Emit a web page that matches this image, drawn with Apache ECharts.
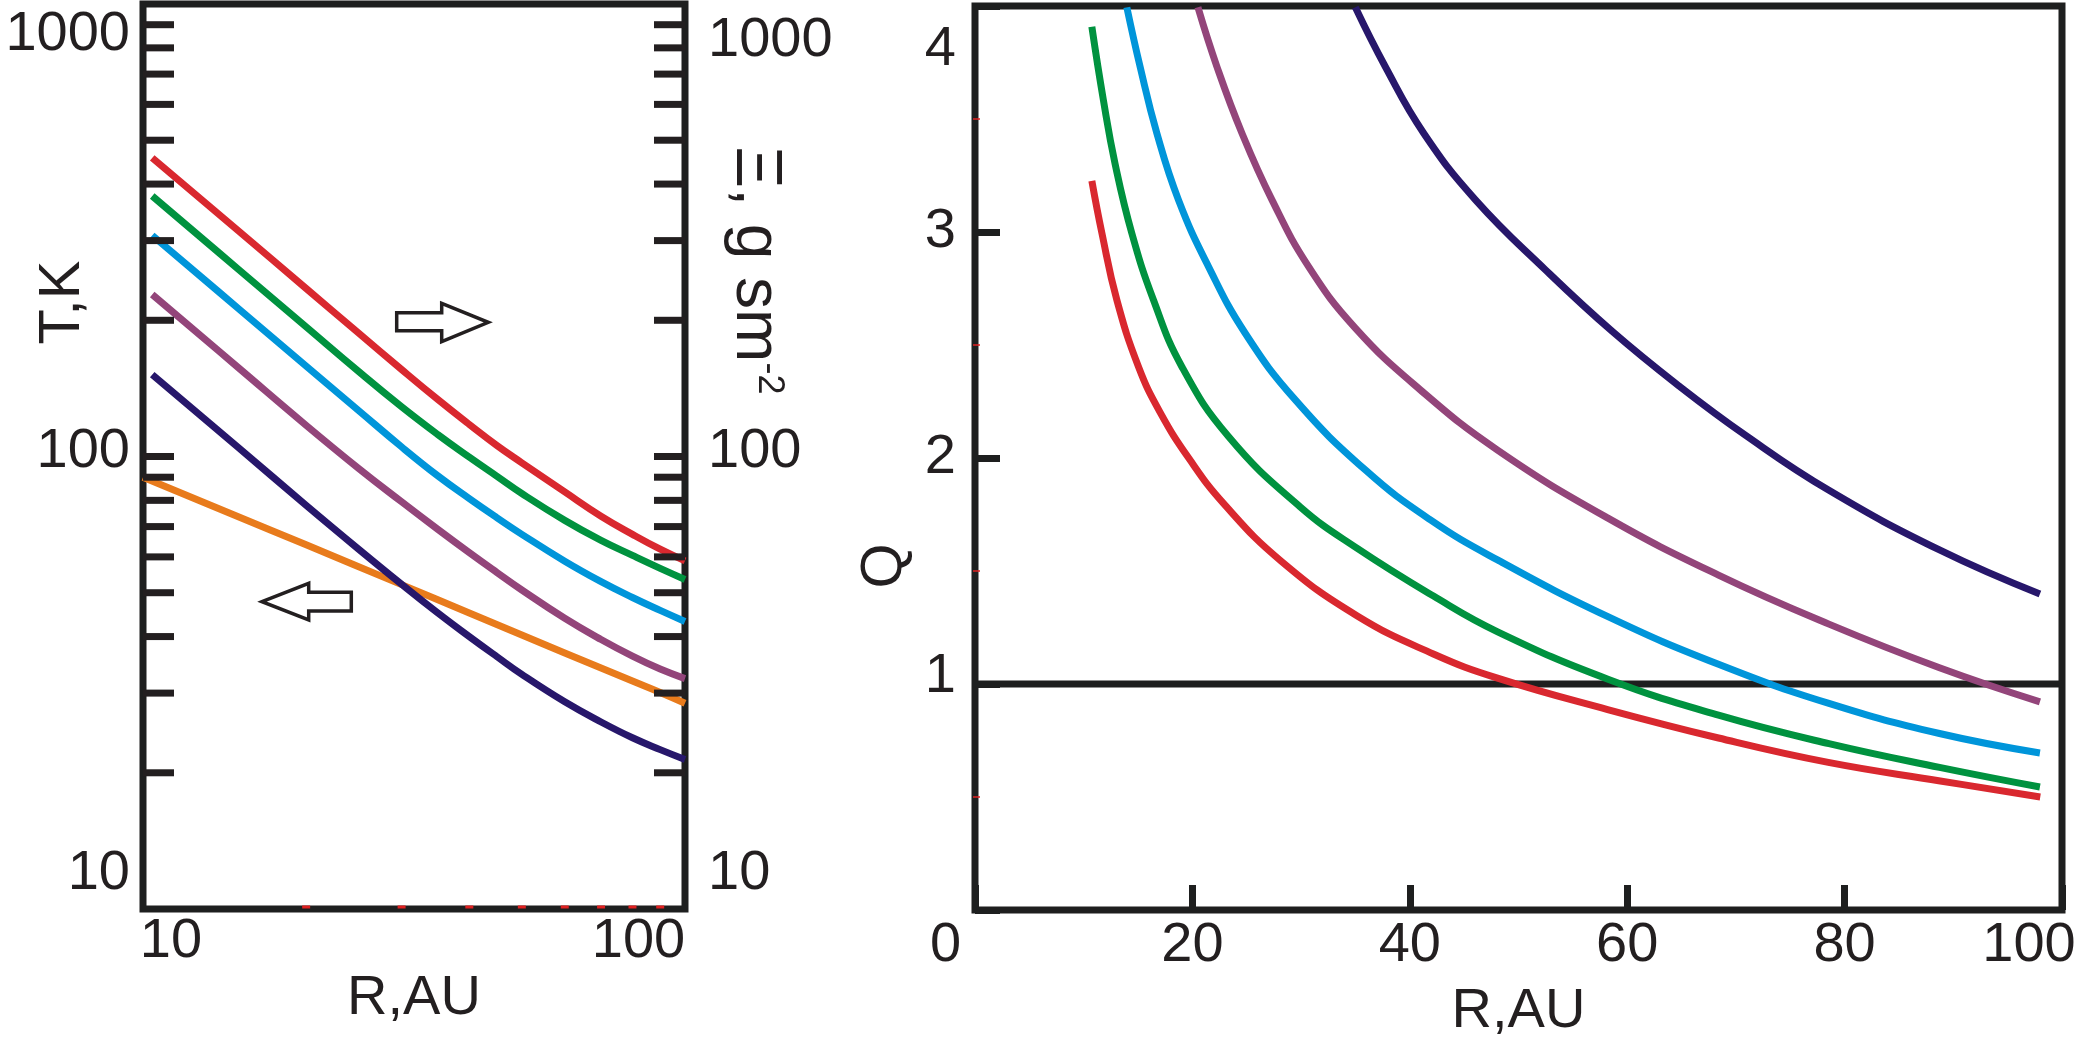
<!DOCTYPE html>
<html>
<head>
<meta charset="utf-8">
<script src="https://cdn.jsdelivr.net/npm/echarts@6/dist/echarts.min.js"></script>
<style>
html,body{margin:0;padding:0;background:#ffffff;}
#chart{width:2074px;height:1044px;}
</style>
</head>
<body>
<div id="chart"></div>
<script>
// ================= DATA =================
// Left panel: surface density Sigma (right log axis) and temperature T (left log axis) vs R (log)
const sigmaRadius = [10.4, 15, 20, 25, 30, 35, 40, 45, 50, 60, 70, 80, 90, 100];
const sigmaRed    = [457, 315.2, 235.1, 187.4, 155.7, 133.6, 117.7, 105.7, 96.85, 83.5, 73.8, 67.3, 62.4, 58.8];
const sigmaGreen  = [376.5, 259.2, 193.4, 154.1, 128.8, 111.8, 99.66, 90.4, 82.85, 72.25, 65.25, 60.45, 56.6, 53.5];
const sigmaBlue   = [308.1, 212.3, 158.4, 126.3, 105.0, 90.6, 80.7, 73.2, 67.3, 58.7, 52.9, 48.8, 45.7, 43.2];
const sigmaPurple = [228, 157.1, 117.2, 94.1, 79.4, 69.0, 61.3, 55.4, 50.7, 43.9, 39.4, 36.2, 33.9, 32.3];
const sigmaNavy   = [151.7, 104.6, 78.0, 62.4, 52.2, 45.1, 40.0, 36.1, 33.0, 28.7, 25.9, 23.9, 22.5, 21.4];

const tempRadius = [10, 20, 30, 40, 50, 60, 70, 80, 90, 100];
const tempValues = [90, 63.8, 52.1, 45.1, 40.3, 36.8, 34.1, 31.9, 30.1, 28.5];

// log-axis tick marks drawn on the left panel (both vertical frame sides)
const logTickValues = [20, 30, 40, 50, 60, 70, 80, 90, 100, 200, 300, 400, 500, 600, 700, 800, 900];
// small red minor marks on the bottom frame of the left panel
const logMinorR = [20, 30, 40, 50, 60, 70, 80, 90];
// small red minor marks on the Q axis
const qMinorTicks = [0.5, 1.5, 2.5, 3.5];

// Right panel: Toomre Q vs R (linear)
const qRedR    = [10.75, 11.67, 13.05, 15.04, 17.03, 19.74, 22.9, 28.16, 35.17, 42.17, 48.07, 58.2, 68.4, 78.5, 88.8, 98.0];
const qRedQ    = [3.226, 2.996, 2.699, 2.404, 2.202, 1.994, 1.797, 1.544, 1.301, 1.133, 1.026, 0.887, 0.761, 0.653, 0.571, 0.500];
const qGreenR  = [10.75, 11.81, 12.89, 14.43, 16.42, 19.03, 23.32, 29.91, 35.17, 42.18, 48.08, 58.23, 68.4, 78.56, 88.73, 97.97];
const qGreenQ  = [3.908, 3.584, 3.301, 2.994, 2.699, 2.404, 2.095, 1.784, 1.60, 1.389, 1.231, 1.021, 0.862, 0.736, 0.631, 0.544];
const qBlueR   = [13.97, 15.19, 16.73, 18.72, 21.48, 24.86, 29.47, 35.91, 41.9, 48.07, 58.23, 68.4, 78.56, 88.73, 97.97];
const qBlueQ   = [3.994, 3.731, 3.437, 3.142, 2.847, 2.552, 2.257, 1.947, 1.726, 1.549, 1.298, 1.087, 0.914, 0.781, 0.695];
const qPurpleR = [20.51, 22.26, 24.56, 27.32, 30.69, 34.99, 40.98, 48.07, 58.23, 68.4, 78.56, 88.73, 97.97];
const qPurpleQ = [3.994, 3.731, 3.437, 3.142, 2.847, 2.575, 2.301, 2.035, 1.734, 1.482, 1.265, 1.072, 0.921];
const qNavyR   = [34.99, 37.75, 41.28, 46.04, 52.49, 58.63, 64.76, 70.9, 78.56, 88.73, 97.97];
const qNavyQ   = [3.994, 3.731, 3.437, 3.142, 2.832, 2.560, 2.319, 2.100, 1.857, 1.593, 1.398];
const qCritical = 1;

// tick label texts
const leftXLabels = ['10', '100'];
const logYLabels = ['10', '100', '1000'];
const qXLabels = ['0', '20', '40', '60', '80', '100'];
const qYLabels = ['1', '2', '3', '4'];

// ================= STYLE =================
const FONT = "'Liberation Sans', Arial, 'DejaVu Sans', sans-serif";
const TXT = '#231f20';
const FRAME = '#1e1f1f';
const MINOR_RED = '#e02020';
const C = {
  red: '#d9282f', green: '#00923f', blue: '#0095da',
  purple: '#93457a', navy: '#27176b', orange: '#e87b1c'
};
const LW = 7;

function rs(pad, size) {
  return { fontSize: size || 56, fontFamily: FONT, color: TXT, padding: pad || [0, 0, 0, 0] };
}
function zip(xs, ys) { return xs.map((x, i) => [x, ys[i]]); }

function lineSeries(name, data, color, xi, yi) {
  return {
    type: 'line', name: name, xAxisIndex: xi, yAxisIndex: yi,
    data: data, smooth: 0.45, showSymbol: false, symbol: 'none',
    lineStyle: { color: color, width: LW, cap: 'butt', join: 'round' },
    itemStyle: { color: color }, z: 3, silent: true
  };
}

const chart = echarts.init(document.getElementById('chart'), null, { renderer: 'canvas' });

const option = {
  animation: false,
  backgroundColor: '#ffffff',
  grid: [
    { left: 143, top: 4, width: 542, height: 905, show: true, borderWidth: 7, borderColor: FRAME,
      backgroundColor: 'transparent', containLabel: false, outerBoundsMode: 'none' },
    { left: 975, top: 6, width: 1087, height: 904, show: true, borderWidth: 7, borderColor: FRAME,
      backgroundColor: 'transparent', containLabel: false, outerBoundsMode: 'none' }
  ],
  xAxis: [
    {
      type: 'log', logBase: 10, gridIndex: 0, min: 10, max: 100,
      axisLine: { show: false }, axisTick: { show: false }, splitLine: { show: false },
      axisLabel: {
        margin: 5, interval: 0, hideOverlap: false,
        formatter: function (v) {
          const r = Math.round(v);
          return r === 10 ? '{l|' + leftXLabels[0] + '}' : '{r|' + leftXLabels[1] + '}';
        },
        rich: { l: rs([0, 0, 0, 56]), r: rs([0, 93, 0, 0]) }
      },
      name: 'R,AU', nameLocation: 'middle', nameGap: 62, nameMoveOverlap: false,
      nameTextStyle: { fontSize: 56, fontFamily: FONT, color: TXT }
    },
    {
      type: 'value', gridIndex: 1, min: 0, max: 100, interval: 20,
      axisLine: { show: false }, splitLine: { show: false },
      axisTick: { show: true, inside: true, length: 25, lineStyle: { color: FRAME, width: 7 } },
      axisLabel: {
        margin: 8, interval: 0, hideOverlap: false,
        formatter: function (v) {
          const s = qXLabels[Math.round(v / 20)];
          if (v === 0) return '{z|' + s + '}';
          if (v === 100) return '{h|' + s + '}';
          return '{n|' + s + '}';
        },
        rich: { z: rs([0, 59, 0, 0]), h: rs([0, 66, 0, 0]), n: rs() }
      },
      name: 'R,AU', nameLocation: 'middle', nameGap: 74,
      nameTextStyle: { fontSize: 56, fontFamily: FONT, color: TXT }
    }
  ],
  yAxis: [
    {
      type: 'log', logBase: 10, gridIndex: 0, min: 10, max: 1000, position: 'left',
      axisLine: { show: false }, axisTick: { show: false }, splitLine: { show: false },
      axisLabel: {
        margin: 13, interval: 0, hideOverlap: false,
        formatter: function (v) {
          const r = Math.round(v);
          if (r === 1000) return '{t|' + logYLabels[2] + '}';
          if (r === 100) return '{m|' + logYLabels[1] + '}';
          return '{b|' + logYLabels[0] + '}';
        },
        rich: { t: rs([62, 0, 0, 0]), m: rs([0, 0, 10, 0]), b: rs([0, 0, 70, 0]) }
      },
      name: 'T,K', nameLocation: 'middle', nameGap: 51, nameRotate: 90, nameMoveOverlap: false,
      nameTextStyle: { fontSize: 58, fontFamily: FONT, color: TXT, padding: [0, 0, 0, 308] }
    },
    {
      type: 'log', logBase: 10, gridIndex: 0, min: 10, max: 1000, position: 'right',
      axisLine: { show: false }, axisTick: { show: false }, splitLine: { show: false },
      axisLabel: {
        margin: 23, interval: 0, hideOverlap: false,
        formatter: function (v) {
          const r = Math.round(v);
          if (r === 1000) return '{t|' + logYLabels[2] + '}';
          if (r === 100) return '{m|' + logYLabels[1] + '}';
          return '{b|' + logYLabels[0] + '}';
        },
        rich: { t: rs([74, 0, 0, 0]), m: rs([0, 0, 10, 0]), b: rs([0, 0, 70, 0]) }
      },
      name: '{a|Ξ, g sm}{s|-2}', nameLocation: 'middle', nameGap: 38, nameRotate: -90, nameMoveOverlap: false,
      nameTextStyle: {
        fontSize: 64, fontFamily: FONT, color: TXT, padding: [0, 372, 0, 0],
        rich: {
          a: { fontSize: 64, fontFamily: FONT, color: TXT },
          s: { fontSize: 36, fontFamily: FONT, color: TXT, verticalAlign: 'top' }
        }
      }
    },
    {
      type: 'value', gridIndex: 1, min: 0, max: 4, interval: 1, position: 'left',
      axisLine: { show: false }, splitLine: { show: false },
      axisTick: { show: true, inside: true, length: 25, lineStyle: { color: FRAME, width: 7 } },
      axisLabel: {
        margin: 19, interval: 0, hideOverlap: false,
        formatter: function (v) {
          if (v === 0) return '';
          const s = qYLabels[Math.round(v) - 1];
          if (v === 4) return '{f|' + s + '}';
          if (v === 1) return '{o|' + s + '}';
          return '{n|' + s + '}';
        },
        rich: { f: rs([88, 0, 0, 0]), o: rs([0, 0, 14, 0]), n: rs() }
      },
      name: 'Q', nameLocation: 'middle', nameGap: 50, nameRotate: 90,
      nameTextStyle: { fontSize: 58, fontFamily: FONT, color: TXT, padding: [0, 216, 0, 0] }
    }
  ],
  graphic: [
    { type: 'polygon', z: 100,
      shape: { points: [[396.7, 312.7], [441.7, 312.7], [441.7, 303.3], [488.3, 322.3], [441.7, 341.7], [441.7, 330.7], [396.7, 330.7]] },
      style: { fill: '#ffffff', stroke: TXT, lineWidth: 3.5, lineJoin: 'miter' } },
    { type: 'polygon', z: 100,
      shape: { points: [[262, 601.7], [308.7, 583.3], [308.7, 592.3], [351.3, 592.3], [351.3, 611], [308.7, 611], [308.7, 620]] },
      style: { fill: '#ffffff', stroke: TXT, lineWidth: 3.5, lineJoin: 'miter' } }
  ],
  series: [
    // log tick marks on the left panel (inner side of both vertical frames)
    {
      type: 'custom', xAxisIndex: 0, yAxisIndex: 0, silent: true, z: 4, clip: false,
      data: logTickValues.map(v => [10, v]),
      renderItem: function (params, api) {
        const v = api.value(1);
        const pL = api.coord([10, v]);
        const pR = api.coord([100, v]);
        return {
          type: 'group',
          children: [
            { type: 'rect', shape: { x: pL[0], y: pL[1] - 3.5, width: 31, height: 7 }, style: { fill: TXT } },
            { type: 'rect', shape: { x: pR[0] - 31, y: pR[1] - 3.5, width: 31, height: 7 }, style: { fill: TXT } }
          ]
        };
      }
    },
    // tiny red minor marks on the bottom frame of the left panel
    {
      type: 'custom', xAxisIndex: 0, yAxisIndex: 0, silent: true, z: 5, clip: false,
      data: logMinorR.map(r => [r, 10]),
      renderItem: function (params, api) {
        const p = api.coord([api.value(0), api.value(1)]);
        return { type: 'rect', shape: { x: p[0] - 4, y: p[1] - 3.5, width: 8, height: 3 }, style: { fill: MINOR_RED } };
      }
    },
    // tiny red minor marks on the Q axis
    {
      type: 'custom', xAxisIndex: 1, yAxisIndex: 2, silent: true, z: 5, clip: false,
      data: qMinorTicks.map(q => [0, q]),
      renderItem: function (params, api) {
        const p = api.coord([api.value(0), api.value(1)]);
        return { type: 'rect', shape: { x: p[0] - 2, y: p[1] - 0.75, width: 7, height: 1.5 }, style: { fill: MINOR_RED } };
      }
    },
    lineSeries('T', zip(tempRadius, tempValues), C.orange, 0, 0),
    lineSeries('Σ1', zip(sigmaRadius, sigmaRed), C.red, 0, 1),
    lineSeries('Σ2', zip(sigmaRadius, sigmaGreen), C.green, 0, 1),
    lineSeries('Σ3', zip(sigmaRadius, sigmaBlue), C.blue, 0, 1),
    lineSeries('Σ4', zip(sigmaRadius, sigmaPurple), C.purple, 0, 1),
    lineSeries('Σ5', zip(sigmaRadius, sigmaNavy), C.navy, 0, 1),
    {
      type: 'line', name: 'Q=1', xAxisIndex: 1, yAxisIndex: 2, silent: true, z: 2,
      data: [[0, qCritical], [100, qCritical]], showSymbol: false, symbol: 'none',
      lineStyle: { color: FRAME, width: 7 }
    },
    lineSeries('Q1', zip(qRedR, qRedQ), C.red, 1, 2),
    lineSeries('Q2', zip(qGreenR, qGreenQ), C.green, 1, 2),
    lineSeries('Q3', zip(qBlueR, qBlueQ), C.blue, 1, 2),
    lineSeries('Q4', zip(qPurpleR, qPurpleQ), C.purple, 1, 2),
    lineSeries('Q5', zip(qNavyR, qNavyQ), C.navy, 1, 2)
  ]
};

chart.setOption(option);
</script>
</body>
</html>
